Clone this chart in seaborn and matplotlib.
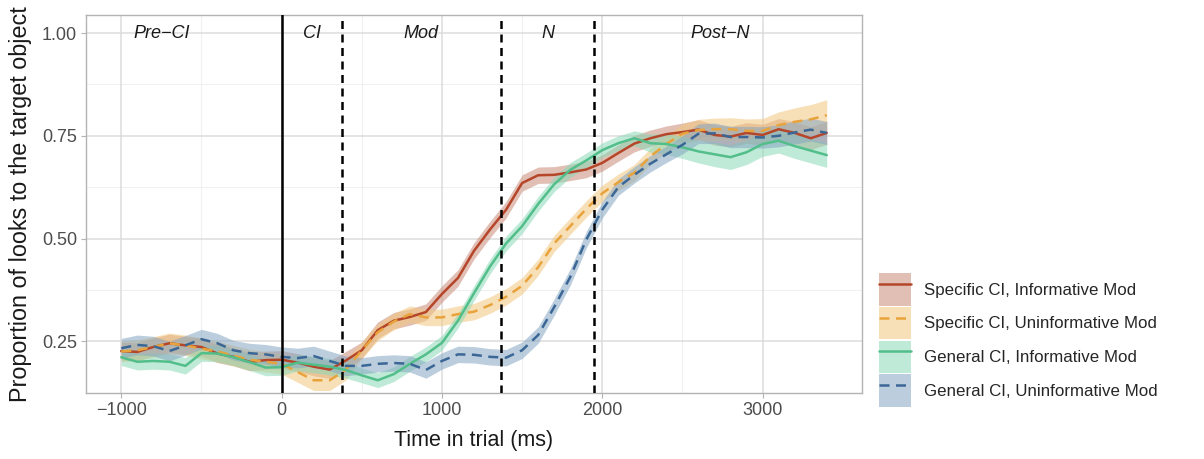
import numpy as np
import pandas as pd
import matplotlib
matplotlib.use("Agg")
import matplotlib.pyplot as plt
from matplotlib.patches import Patch
from matplotlib.lines import Line2D
import seaborn as sns

# ---------------- data ----------------
time_ms = list(range(-1000, 3401, 100))

spec_inf = [0.226, 0.224, 0.236, 0.245, 0.240, 0.236, 0.220, 0.212, 0.200, 0.204,
            0.205, 0.198, 0.188, 0.181, 0.203, 0.228, 0.277, 0.300, 0.309, 0.321,
            0.365, 0.404, 0.470, 0.522, 0.570, 0.635, 0.654, 0.655, 0.661, 0.668,
            0.684, 0.708, 0.731, 0.744, 0.754, 0.759, 0.765, 0.752, 0.748, 0.757,
            0.752, 0.766, 0.757, 0.744, 0.757]
spec_uninf = [0.225, 0.228, 0.236, 0.245, 0.240, 0.232, 0.225, 0.215, 0.205, 0.200,
              0.195, 0.175, 0.155, 0.155, 0.180, 0.228, 0.272, 0.298, 0.316, 0.308,
              0.308, 0.316, 0.322, 0.338, 0.358, 0.385, 0.430, 0.488, 0.530, 0.572,
              0.610, 0.637, 0.660, 0.700, 0.730, 0.755, 0.764, 0.766, 0.766, 0.762,
              0.762, 0.776, 0.784, 0.790, 0.800]
gen_inf = [0.211, 0.200, 0.202, 0.200, 0.190, 0.221, 0.220, 0.211, 0.199, 0.186,
           0.187, 0.198, 0.193, 0.188, 0.180, 0.167, 0.155, 0.170, 0.195, 0.218,
           0.246, 0.300, 0.367, 0.432, 0.488, 0.530, 0.584, 0.632, 0.667, 0.690,
           0.715, 0.732, 0.744, 0.732, 0.730, 0.722, 0.712, 0.705, 0.698, 0.710,
           0.730, 0.738, 0.725, 0.714, 0.703]
gen_uninf = [0.233, 0.241, 0.238, 0.226, 0.240, 0.255, 0.245, 0.228, 0.221, 0.218,
             0.212, 0.209, 0.214, 0.202, 0.190, 0.190, 0.195, 0.197, 0.195, 0.180,
             0.202, 0.218, 0.217, 0.212, 0.210, 0.228, 0.265, 0.333, 0.406, 0.497,
             0.570, 0.625, 0.655, 0.682, 0.705, 0.728, 0.755, 0.756, 0.747, 0.747,
             0.746, 0.750, 0.758, 0.765, 0.757]

spec_inf_se = [0.022] * 15 + [0.020] * 20 + [0.022, 0.024, 0.025, 0.025, 0.025,
               0.026, 0.026, 0.027, 0.028, 0.028]
spec_uninf_se = [0.025] * 15 + [0.020] * 20 + [0.024, 0.026, 0.027, 0.028, 0.029,
                 0.030, 0.032, 0.034, 0.036, 0.038]
gen_inf_se = [0.020] * 15 + [0.018] * 18 + [0.022, 0.025, 0.027, 0.028, 0.030,
              0.030, 0.030, 0.030, 0.030, 0.030, 0.030, 0.030]
gen_uninf_se = [0.024] * 15 + [0.020] * 20 + [0.022, 0.024, 0.025, 0.026, 0.026,
                0.026, 0.027, 0.028, 0.028, 0.028]

conditions = ["Specific CI, Informative Mod", "Specific CI, Uninformative Mod",
              "General CI, Informative Mod", "General CI, Uninformative Mod"]
series = [spec_inf, spec_uninf, gen_inf, gen_uninf]
series_se = [spec_inf_se, spec_uninf_se, gen_inf_se, gen_uninf_se]

region_bounds = [0, 374, 1371, 1950]
region_labels = ["Pre\u2212CI", "CI", "Mod", "N", "Post\u2212N"]
region_label_x = [-750, 187, 872, 1660, 2735]

# ---------------- style ----------------
line_colors = ["#B5462A", "#E8A33C", "#52BE8A", "#3B6796"]
fill_colors = ["#C98C78", "#F2C77E", "#8DD9B8", "#85A7C2"]
dash_styles = ["", (4, 2.6), "", (4, 2.6)]

rows = []
for cond, vals, ses in zip(conditions, series, series_se):
    for t, v, s in zip(time_ms, vals, ses):
        rows.append({"time": t, "prop": v, "lo": v - s, "hi": v + s, "cond": cond})
df = pd.DataFrame(rows)

sns.set_theme(style="white")
plt.rcParams["font.family"] = ["Liberation Sans", "DejaVu Sans"]

fig = plt.figure(figsize=(12.04, 4.59), dpi=100)
ax = fig.add_axes([86 / 1204, 1 - 393 / 459, (862 - 86) / 1204, (393 - 15) / 459])

# grid
for xv in [-500, 500, 1500, 2500]:
    ax.axvline(xv, color="#F0F0F0", lw=0.8, zorder=0)
for yv in [0.125, 0.375, 0.625, 0.875]:
    ax.axhline(yv, color="#F0F0F0", lw=0.8, zorder=0)
for xv in [-1000, 0, 1000, 2000, 3000]:
    ax.axvline(xv, color="#DCDCDC", lw=1.1, zorder=0)
for yv in [0.25, 0.5, 0.75, 1.0]:
    ax.axhline(yv, color="#DCDCDC", lw=1.1, zorder=0)

# ribbons
for cond, fc in zip(conditions, fill_colors):
    sub = df[df["cond"] == cond]
    ax.fill_between(sub["time"], sub["lo"], sub["hi"], color=fc, alpha=0.55, lw=0, zorder=1)

sns.lineplot(data=df, x="time", y="prop", hue="cond", style="cond",
             hue_order=conditions, style_order=conditions,
             palette=dict(zip(conditions, line_colors)),
             dashes=dict(zip(conditions, dash_styles)),
             errorbar=None, lw=1.8, ax=ax, legend=False, zorder=3)

# phase boundaries
ax.axvline(region_bounds[0], color="black", lw=1.8, zorder=4)
for b in region_bounds[1:]:
    ax.axvline(b, color="black", lw=1.8, ls=(0, (3.2, 2.2)), zorder=4)

for lx, lab in zip(region_label_x, region_labels):
    ax.text(lx, 1.0, lab, style="italic", fontsize=13, ha="center", va="center",
            color="#1A1A1A", zorder=5)

ax.set_xlim(-1220, 3620)
ax.set_ylim(0.124, 1.044)
ax.set_xticks([-1000, 0, 1000, 2000, 3000])
ax.set_xticklabels(["\u22121000", "0", "1000", "2000", "3000"])
ax.set_yticks([0.25, 0.5, 0.75, 1.0])
ax.set_yticklabels(["0.25", "0.50", "0.75", "1.00"])
ax.tick_params(axis="both", which="major", length=3.5, width=0.8, color="#B3B3B3",
               labelsize=13, labelcolor="#4D4D4D", pad=3, bottom=True, left=True)
for sp in ax.spines.values():
    sp.set_color("#B3B3B3")
    sp.set_linewidth(1.0)
ax.set_xlabel("Time in trial (ms)", fontsize=15.5, color="#1A1A1A", labelpad=8)
ax.set_ylabel("Proportion of looks to the target object", fontsize=16.8, color="#1A1A1A",
              labelpad=7)

handles = []
for lc, fc, ds in zip(line_colors, fill_colors, dash_styles):
    p = Patch(facecolor=fc, alpha=0.55, edgecolor="none")
    if ds == "":
        ln = Line2D([], [], color=lc, lw=1.8)
    else:
        ln = Line2D([], [], color=lc, lw=1.8, dashes=ds)
    handles.append((p, ln))
leg = fig.legend(handles, conditions, loc="center left",
                 bbox_to_anchor=(879 / 1204, 1 - 340 / 459), frameon=False,
                 fontsize=12.2, handlelength=1.9, handleheight=2.55,
                 handletextpad=0.75, labelspacing=0.08, borderaxespad=0,
                 borderpad=0)

fig.savefig("out.png", dpi=100)
